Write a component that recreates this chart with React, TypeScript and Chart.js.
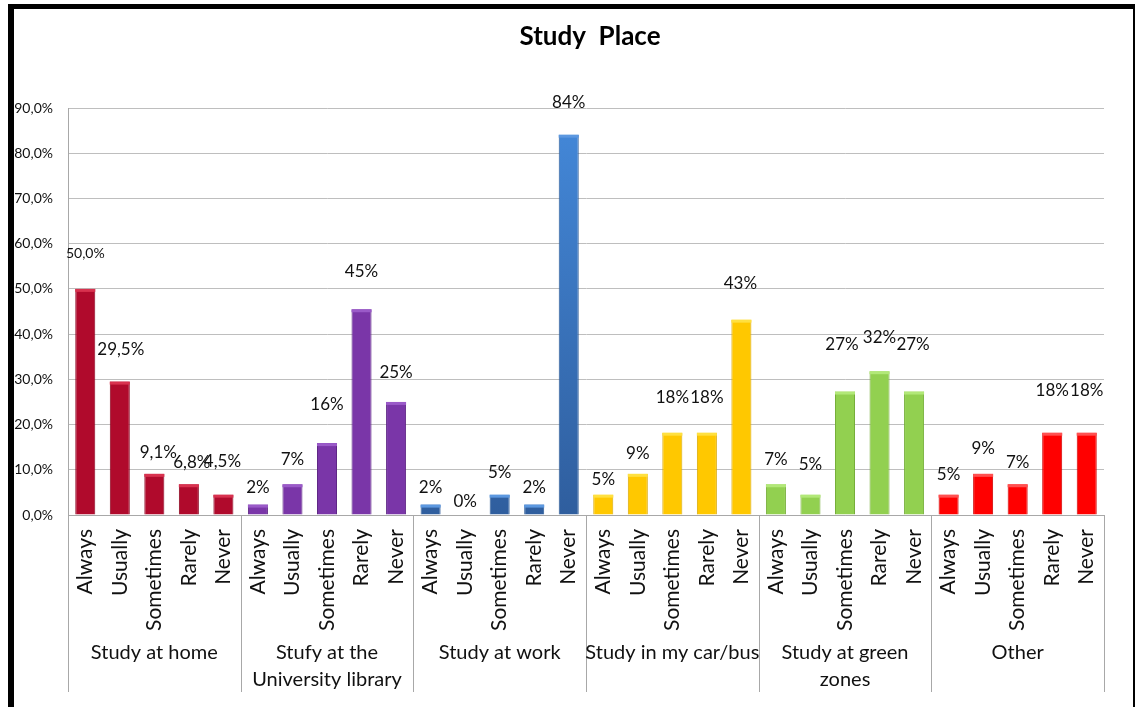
import React, { useEffect, useRef } from "react";
import { Chart, registerables } from "chart.js";

Chart.register(...registerables);

// ---------- data ----------
const titleText = "Study  Place";
const groupNames: string[][] = [
  ["Study at home"],
  ["Stufy at the", "University library"],
  ["Study at work"],
  ["Study in my car/bus"],
  ["Study at green", "zones"],
  ["Other"],
];
const answers = ["Always", "Usually", "Sometimes", "Rarely", "Never"];

const homeValues = [50.0, 29.5, 9.1, 6.8, 4.5];
const libraryValues = [2.3, 6.8, 15.9, 45.5, 25.0];
const workValues = [2.3, 0, 4.5, 2.3, 84.1];
const carValues = [4.5, 9.1, 18.2, 18.2, 43.2];
const greenValues = [6.8, 4.5, 27.3, 31.8, 27.3];
const otherValues = [4.5, 9.1, 6.8, 18.2, 18.2];

const homeLabels = ["50,0%", "29,5%", "9,1%", "6,8%", "4,5%"];
const libraryLabels = ["2%", "7%", "16%", "45%", "25%"];
const workLabels = ["2%", "0%", "5%", "2%", "84%"];
const carLabels = ["5%", "9%", "18%", "18%", "43%"];
const greenLabels = ["7%", "5%", "27%", "32%", "27%"];
const otherLabels = ["5%", "9%", "7%", "18%", "18%"];

const yTickLabels = ["0,0%", "10,0%", "20,0%", "30,0%", "40,0%", "50,0%", "60,0%", "70,0%", "80,0%", "90,0%"];

// ---------- styles ----------
const groupColors = ["#B00A2C", "#7A36A8", "#3A78C6", "#FFC800", "#92D050", "#FF0000"];
const groupEdges = ["#8C0622", "#5F2785", "#2B5A96", "#D9A800", "#76AE3A", "#D00000"];
const groupCaps = ["#D8324F", "#9A5AC8", "#5C98E0", "#FFE040", "#B2E878", "#FF5050"];
// distance (px) of each value label's centre above its bar top, and a small x nudge
const labelLift = [
  35, 32, 21, 22, 33,
  17, 25, 39, 38, 29,
  17, 13, 22, 17, 32,
  15, 20, 35, 35, 36,
  25, 30, 47, 34, 47,
  20, 25, 22, 42, 42,
];
const labelShift = [
  0, 1, 4, 3, -1,
  0, 0, 0, 0, 0,
  0, 0, 0, 0, 0,
  0, 0, 0, 0, -1,
  0, 0, -3, 0, -1,
  0, 0, 0, 0, 0,
];
const labelSizes = [
  14, 17, 17, 17, 17,
  17, 17, 17, 17, 17,
  17, 17, 17, 17, 17,
  17, 17, 17, 17, 17,
  17, 17, 17, 17, 17,
  17, 17, 17, 17, 17,
];

const FONT = "Lato, 'Open Sans', sans-serif";
const TEXT = "#111111";
const GRID = "#BEBEBE";
const AXIS_HEIGHT = 177;

const allValues = [homeValues, libraryValues, workValues, carValues, greenValues, otherValues];
const allLabels = [homeLabels, libraryLabels, workLabels, carLabels, greenLabels, otherLabels];

export default function App() {
  const ref = useRef<HTMLCanvasElement | null>(null);

  useEffect(() => {
    if (!ref.current) return;
    const values = allValues.flat();
    const valueLabels = allLabels.flat();
    const xLabels = allValues.flatMap(() => answers);
    const groupOf = (i: number) => Math.floor(i / answers.length);

    const decorPlugin = {
      id: "decor",
      afterDatasetsDraw(chart: any) {
        const ctx = chart.ctx as CanvasRenderingContext2D;
        const meta = chart.getDatasetMeta(0);
        ctx.save();
        // bar caps
        meta.data.forEach((bar: any, i: number) => {
          const g = groupOf(i);
          const h = bar.base - bar.y;
          if (h <= 0.5) return;
          const w = bar.width;
          ctx.fillStyle = groupCaps[g];
          ctx.fillRect(bar.x - w / 2, bar.y, w, Math.min(3, h));
        });
        // value labels
        ctx.fillStyle = TEXT;
        ctx.textAlign = "center";
        ctx.textBaseline = "middle";
        meta.data.forEach((bar: any, i: number) => {
          ctx.font = `${labelSizes[i]}px ${FONT}`;
          ctx.fillText(valueLabels[i], bar.x + labelShift[i], bar.y - labelLift[i]);
        });
        ctx.restore();
      },
      afterDraw(chart: any) {
        const ctx = chart.ctx as CanvasRenderingContext2D;
        const ca = chart.chartArea;
        const xs = chart.scales.x;
        const n = answers.length;
        const slot = (xs.getPixelForValue(1) - xs.getPixelForValue(0));
        ctx.save();
        // group separators
        ctx.strokeStyle = "#A8A8A8";
        ctx.lineWidth = 1;
        for (let g = 0; g <= groupNames.length; g++) {
          const px = Math.round(xs.getPixelForValue(g * n) - slot / 2) + 0.5;
          ctx.beginPath();
          ctx.moveTo(px, ca.bottom);
          ctx.lineTo(px, ca.bottom + AXIS_HEIGHT);
          ctx.stroke();
        }
        // group names
        ctx.fillStyle = TEXT;
        ctx.font = `20px ${FONT}`;
        ctx.textAlign = "center";
        ctx.textBaseline = "middle";
        groupNames.forEach((lines, g) => {
          const cx = (xs.getPixelForValue(g * n) + xs.getPixelForValue(g * n + n - 1)) / 2;
          lines.forEach((line, k) => {
            ctx.fillText(line, cx, ca.bottom + 138 + k * 27);
          });
        });
        // title
        ctx.font = `bold 26px ${FONT}`;
        ctx.fillStyle = "#000";
        ctx.fillText(titleText, 576, 28);
        ctx.restore();
      },
    };

    const chart = new Chart(ref.current, {
      type: "bar",
      data: {
        labels: xLabels,
        datasets: [
          {
            data: values,
            backgroundColor: (c: any) => {
              const g = groupOf(c.dataIndex);
              if (g === 2 && c.chart.chartArea) {
                const ca = c.chart.chartArea;
                const grad = c.chart.ctx.createLinearGradient(0, ca.bottom, 0, ca.top);
                grad.addColorStop(0, "#2F5E9E");
                grad.addColorStop(1, "#4489DA");
                return grad;
              }
              return groupColors[g];
            },
            borderColor: (c: any) => groupEdges[groupOf(c.dataIndex)],
            borderWidth: { left: 1, right: 1, top: 0, bottom: 0 },
            borderSkipped: false,
            barPercentage: 0.58,
            categoryPercentage: 1,
          },
        ],
      },
      options: {
        responsive: false,
        animation: false,
        events: [],
        layout: { padding: { top: 99, left: 0, right: 29, bottom: 15 } },
        plugins: {
          legend: { display: false },
          title: { display: false },
          tooltip: { enabled: false },
        },
        scales: {
          x: {
            type: "category",
            grid: { display: false, drawTicks: false },
            border: { display: true, color: "#A8A8A8", width: 1 },
            ticks: {
              autoSkip: false,
              minRotation: 90,
              maxRotation: 90,
              padding: 14,
              color: TEXT,
              font: { family: FONT, size: 21 },
            },
            afterFit: (s: any) => {
              s.height = AXIS_HEIGHT;
            },
          },
          y: {
            min: 0,
            max: 90,
            grid: { color: GRID, drawTicks: false, lineWidth: 1 },
            border: { display: true, color: "#A8A8A8", width: 1 },
            ticks: {
              stepSize: 10,
              padding: 15,
              color: TEXT,
              font: { family: FONT, size: 14 },
              callback: (_v: any, i: number) => yTickLabels[i],
            },
            afterFit: (s: any) => {
              s.width = 54;
            },
          },
        },
      },
      plugins: [decorPlugin],
    });
    return () => chart.destroy();
  }, []);

  return (
    <div
      style={{
        position: "absolute",
        left: 8,
        top: 4,
        width: 1119,
        height: 698,
        borderLeft: "6px solid #000",
        borderTop: "5px solid #000",
        borderRight: "2px solid #000",
        background: "#fff",
      }}
    >
      <canvas ref={ref} width={1119} height={698} style={{ display: "block" }} />
    </div>
  );
}
